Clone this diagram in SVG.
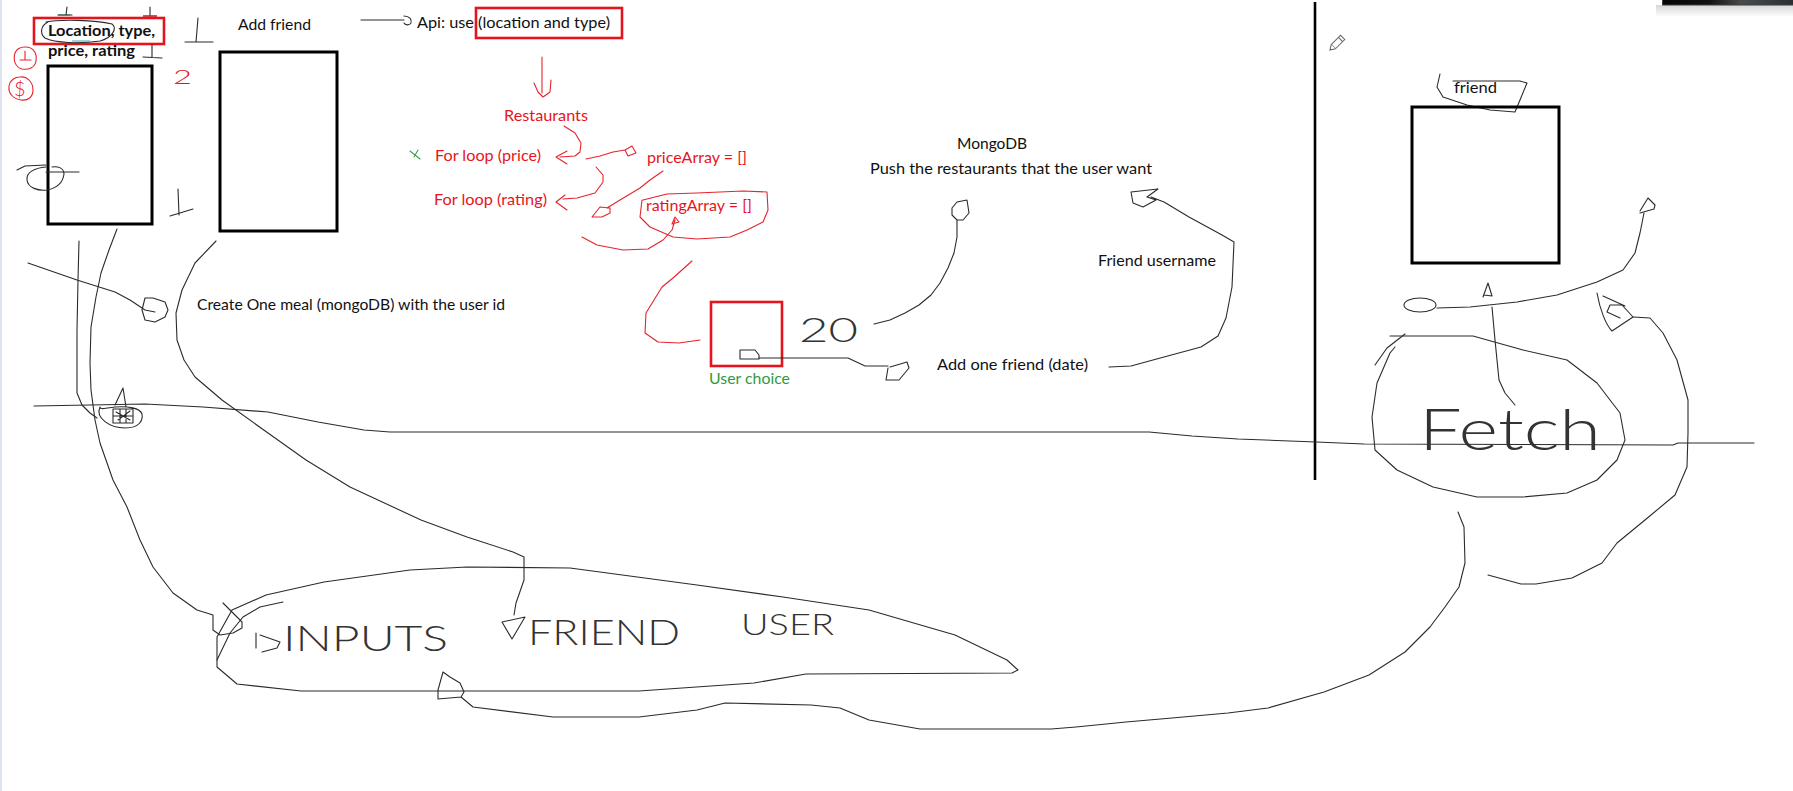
<svg xmlns="http://www.w3.org/2000/svg" width="1793" height="791" viewBox="0 0 1793 791">
<defs>
<style>
.ink{fill:none;stroke:#2b2b2b;stroke-width:1.1;stroke-linecap:round;stroke-linejoin:round}
.rink{fill:none;stroke:#e5232c;stroke-width:1.1;stroke-linecap:round;stroke-linejoin:round}
.gink{fill:none;stroke:#3aa04a;stroke-width:1.1;stroke-linecap:round}
.box{fill:none;stroke:#000;stroke-width:3}
.rbox{fill:none;stroke:#e3141d;stroke-width:2.6}
.t{font-family:Lato,"Open Sans","Liberation Sans",sans-serif;font-size:16px;fill:#111}
.tb{font-family:Lato,"Open Sans","Liberation Sans",sans-serif;font-size:15px;font-weight:bold;fill:#111}
.hand{font-family:Lato,"Open Sans","Liberation Sans",sans-serif;font-weight:300;fill:#333}
.tr{fill:#e8141c}
.tg{fill:#2f9a3f}
</style>
<linearGradient id="barg" x1="0" x2="1" y1="0" y2="0">
<stop offset="0" stop-color="#050505"/><stop offset="0.35" stop-color="#111"/><stop offset="0.6" stop-color="#4a4a4a"/><stop offset="1" stop-color="#2a2e33"/>
</linearGradient>
<linearGradient id="shadow" x1="0" x2="0" y1="0" y2="1">
<stop offset="0" stop-color="#000" stop-opacity="0.16"/><stop offset="1" stop-color="#000" stop-opacity="0"/>
</linearGradient>
</defs>
<rect width="1793" height="791" fill="#fff"/>
<rect x="0" y="0" width="2" height="791" fill="#dce3ef"/>
<g id="window-bar">
<rect x="1656" y="5" width="137" height="12" fill="url(#shadow)"/>
<rect x="1662.5" y="-1" width="131" height="6" fill="url(#barg)" stroke="#36414b" stroke-width="1"/>
</g>

<g id="divider">
<line x1="1315" y1="2" x2="1315" y2="480" stroke="#000" stroke-width="2.6"/>
<path class="ink" d="M34,406 L145,404 L203,407 L268,412 L318,422 L364,430 L390,432 L1149,432 L1192,436 L1238,439 L1316,442 L1364,444 L1673,445 L1678,443 L1754,443"/>
</g>

<g id="pencil" transform="translate(1337,43) rotate(-45)">
<path d="M-5,-3 L8,-3 L8,3 L-5,3 Z" fill="#fff" stroke="#666" stroke-width="1"/>
<path d="M-5,-3 L-10,0 L-5,3" fill="#fff" stroke="#666" stroke-width="1"/>
<line x1="5" y1="-3" x2="5" y2="3" stroke="#666" stroke-width="1"/>
</g>

<g id="node-search-form">
<rect class="rbox" x="34" y="18" width="130" height="26"/>
<text class="tb" x="48" y="36" textLength="107" lengthAdjust="spacingAndGlyphs">Location, type,</text>
<text class="tb" x="48" y="56" textLength="87" lengthAdjust="spacingAndGlyphs">price, rating</text>
<path class="ink" d="M46,22 C60,19 95,20 112,24 C118,28 112,38 100,41 C80,44 55,43 45,38 C40,34 40,26 48,22"/>
<path fill="none" stroke="#2bb3b3" stroke-width="1.2" d="M72,41 L90,41 M58,15 L70,15"/>
<rect class="box" x="48" y="66" width="104" height="158"/>
<path class="ink" d="M67,7 L66,15 M58,15 L72,15"/>
<path class="ink" d="M150,7 L150,16"/>
<path fill="none" stroke="#c8141c" stroke-width="1.5" d="M143,16 L157,16"/>
<path class="ink" d="M152,45 L152,57 M143,57 L162,58"/>
<path class="rink" d="M25,47 C35,47 37,55 36,61 C35,68 28,70 22,69 C15,67 13,60 15,53 C17,48 22,47 25,47"/>
<path class="rink" d="M25,51 L25,60 M20,60 L31,60"/>
<path class="rink" d="M20,77 C28,76 33,83 33,90 C33,97 28,101 21,100 C13,99 8,93 9,86 C10,80 15,77 20,77"/>
<text x="14" y="96" font-family="Lato,'Open Sans',sans-serif" font-weight="300" font-size="20" fill="#e8141c">$</text>
<text x="173" y="84" font-family="Lato,'Open Sans',sans-serif" font-weight="300" font-size="20" fill="#e8141c" textLength="19" lengthAdjust="spacingAndGlyphs">2</text>
<path class="ink" d="M17,170 L25,166 L46,165 M46,167 C35,168 26,172 27,180 C28,188 38,191 47,190 C57,188 63,182 64,174 C64,168 58,166 52,167 M46,172 L79,172"/>
<path class="ink" d="M178,189 L179,215 M170,216 L193,209"/>
</g>

<g id="node-add-friend">
<text class="t" x="238" y="30" textLength="73" lengthAdjust="spacingAndGlyphs">Add friend</text>
<path class="ink" d="M198,18 L196,42 M185,42 L213,42"/>
<rect class="box" x="220" y="52" width="117" height="179"/>
</g>

<g id="node-api">
<text class="t" x="417" y="28" textLength="193" lengthAdjust="spacingAndGlyphs">Api: use (location and type)</text>
<rect class="rbox" x="476" y="8" width="146" height="30"/>
</g>

<g id="node-restaurants">
<text class="t tr" x="504" y="121" textLength="84" lengthAdjust="spacingAndGlyphs">Restaurants</text>
<text class="t tr" x="435" y="161" textLength="106" lengthAdjust="spacingAndGlyphs">For loop (price)</text>
<text class="t tr" x="434" y="205" textLength="113" lengthAdjust="spacingAndGlyphs">For loop (rating)</text>
<text class="t tr" x="647" y="163" textLength="100" lengthAdjust="spacingAndGlyphs">priceArray = []</text>
<text class="t tr" x="646" y="211" textLength="106" lengthAdjust="spacingAndGlyphs">ratingArray = []</text>
<path class="gink" d="M410,151 L420,159 M418,150 L414,157"/>
</g>

<g id="node-user-choice">
<rect class="rbox" x="711" y="302" width="71" height="64"/>
<path class="ink" d="M740,350 L755,350 L759,355 L759,359 L740,359 Z"/>
<text class="t tg" x="709" y="384" textLength="81" lengthAdjust="spacingAndGlyphs">User choice</text>
<text class="hand" x="799" y="342" font-size="34" textLength="59" lengthAdjust="spacingAndGlyphs">20</text>
</g>

<g id="node-mongodb">
<text class="t" x="957" y="149" textLength="70" lengthAdjust="spacingAndGlyphs">MongoDB</text>
<text class="t" x="870" y="174" textLength="282" lengthAdjust="spacingAndGlyphs">Push the restaurants that the user want</text>
</g>

<g id="node-friend-username">
<text class="t" x="1098" y="266" textLength="118" lengthAdjust="spacingAndGlyphs">Friend username</text>
</g>

<g id="node-add-one-friend">
<text class="t" x="937" y="370" textLength="151" lengthAdjust="spacingAndGlyphs">Add one friend (date)</text>
</g>

<g id="node-create-meal">
<text class="t" x="197" y="310" textLength="308" lengthAdjust="spacingAndGlyphs">Create One meal (mongoDB) with the user id</text>
</g>

<g id="node-friend">
<text class="t" x="1454" y="93" textLength="43" lengthAdjust="spacingAndGlyphs">friend</text>
<path class="ink" d="M1440,74 L1437,87 L1443,97 L1467,105 L1490,110 L1515,112 L1520,100 L1527,83 L1520,81 L1453,81"/>
<rect class="box" x="1412" y="107" width="147" height="156"/>
</g>

<g id="node-fetch">
<path class="ink" d="M1390,336 L1473,336 L1523,350 L1567,360 L1597,383 L1620,413 L1625,440 L1617,460 L1597,480 L1567,493 L1523,497 L1477,497 L1433,487 L1397,470 L1375,450 L1372,417 L1377,383 L1390,353 L1395,347"/>
<path class="ink" d="M1375,365 L1387,348 L1405,334"/>
<text class="hand" x="1419" y="450" font-size="58" textLength="182" lengthAdjust="spacingAndGlyphs">Fetch</text>
</g>

<g id="node-inputs">
<path class="ink" d="M301,691 L639,691 L754,683 L806,674 L1012,673 L1018,670 L1007,660 L955,635 L869,610 L783,597 L697,585 L570,568 L467,567 L410,570 L324,582 L266,595 L232,610 L217,637 L217,667 L237,684 L301,691"/>
<path class="ink" d="M217,660 L230,633 L243,617 L260,607 L283,602"/>
<text class="hand" x="283" y="651" font-size="36" textLength="165" lengthAdjust="spacingAndGlyphs">INPUTS</text>
<text class="hand" x="528" y="645" font-size="36" textLength="152" lengthAdjust="spacingAndGlyphs">FRIEND</text>
<text class="hand" x="741" y="635" font-size="30" textLength="93" lengthAdjust="spacingAndGlyphs">USER</text>
</g>

<g id="connectors">
<path class="ink" d="M361,20 L404,20 M404,16 C410,16 412,20 411,23 C409,26 405,25 404,23"/>
<path class="ink" d="M759,358 L848,358 L865,366 L888,366 M890,367 L907,362 L909,368 L899,380 L886,380 L888,368"/>
<path class="ink" d="M874,324 L890,320 L905,313 L919,305 L931,295 L940,283 L948,268 L954,253 L957,237 L957,220 M952,208 L957,202 L967,200 L969,213 L963,220 L957,220 L952,215 Z"/>
<path class="ink" d="M1109,367 L1131,366 L1164,357 L1201,347 L1218,336 L1226,318 L1232,287 L1234,242 L1222,235 L1189,217 L1164,202 L1151,197 M1131,192 L1158,189 L1147,197 L1156,200 L1143,207 L1133,203 Z"/>
<path class="ink" d="M79,241 L78,280 L77,330 L77,393 L82,405 L90,413 L97,418"/>
<path class="ink" d="M117,229 L109,250 L101,273 L96,297 L91,327 L90,363 L91,390 L95,420 L100,443 L113,480 L127,507 L140,540 L153,567 L173,593 L197,610 L213,615 L213,630 L220,635 L233,633 L242,628 L242,622 L233,613 L223,603"/>
<path class="ink" d="M28,263 L77,280 L115,292 L130,300 L145,310 L155,312 M145,298 L153,298 L165,302 L168,310 L165,317 L155,322 L145,320 L142,310 L145,298"/>
<path class="ink" d="M256,633 L256,648 M260,635 L280,642 L277,648 L262,652"/>
<path class="ink" d="M216,241 L195,263 L182,290 L176,313 L177,340 L184,360 L195,377 L222,400 L268,433 L306,460 L350,487 L421,520 L467,537 L513,552 L524,557 L524,580 L516,603 L514,615 M502,622 L525,617 L512,639 Z"/>
<path class="ink" d="M100,407 C95,418 110,428 125,428 C140,428 143,420 142,414 C140,408 128,406 115,407 C105,408 100,410 100,407 M115,405 L123,388 L126,407 M113,409 L133,409 L133,423 L113,423 Z M116,412 L130,420 M118,420 L130,411 M120,409 L120,423 M126,409 L126,423 M113,416 L133,416"/>
<ellipse class="ink" cx="1420" cy="305" rx="16" ry="7"/>
<path class="ink" d="M1437,308 L1470,307 L1517,302 L1557,295 L1597,282 L1623,270 L1635,253 L1640,233 L1644,213 M1640,211 L1648,198 L1655,205 L1654,209 L1640,213"/>
<path class="ink" d="M1483,297 L1488,283 L1492,296 L1484,295"/>
<path class="ink" d="M1492,307 L1495,340 L1497,360 L1499,380 L1505,393 L1515,405"/>
<path class="ink" d="M1597,293 C1600,310 1606,325 1612,331 L1633,317 L1622,305 L1610,305 L1607,312 L1620,318 M1603,296 L1625,306"/>
<path class="ink" d="M1633,317 L1650,318 L1663,333 L1677,360 L1688,400 L1688,433 L1687,467 L1675,495 L1645,520 L1617,543 L1602,563 L1572,578 L1536,584 L1521,584 L1488,575"/>
<path class="ink" d="M1458,512 L1464,527 L1465,563 L1459,587 L1445,607 L1430,627 L1405,652 L1369,675 L1324,692 L1268,708 L1228,713 L1172,718 L1126,722 L1076,727 L1051,729 L920,729 L869,720 L840,708 L811,705 L725,703 L697,710 L639,717 L553,717 L473,707 L461,697 M443,672 L450,677 L460,683 L464,692 L461,697 L438,699 L438,690 L443,672"/>
<path class="rink" d="M542,57 L542,93 M534,83 L538,92 L543,97 L550,92 L551,80"/>
<path class="rink" d="M564,126 L575,133 L581,143 L580,152 L575,156 L560,157 M567,151 L556,157 L567,164"/>
<path class="rink" d="M586,159 L600,156 L613,152 L625,150 M625,150 L632,146 L636,153 L628,156 L625,150"/>
<path class="rink" d="M596,167 L603,175 L603,182 L595,193 L577,198 L563,199 M565,195 L556,202 L567,210"/>
<path class="rink" d="M663,171 L650,180 L640,188 L620,200 L607,208 M610,208 L600,207 L592,217 L602,217 L610,213 L610,208"/>
<path class="rink" d="M642,200 L640,217 L650,227 L673,237 L697,239 L730,237 L747,230 L763,222 L768,210 L767,192 L743,191 L697,193 L667,194 L643,200"/>
<path class="rink" d="M582,237 L597,245 L623,250 L648,249 L663,240 L672,230 L675,220 M672,224 L675,217 L679,222 L672,224"/>
<path class="rink" d="M692,261 L673,278 L662,287 L646,313 L645,333 L658,342 L679,343 L700,340"/>
</g>
</svg>
